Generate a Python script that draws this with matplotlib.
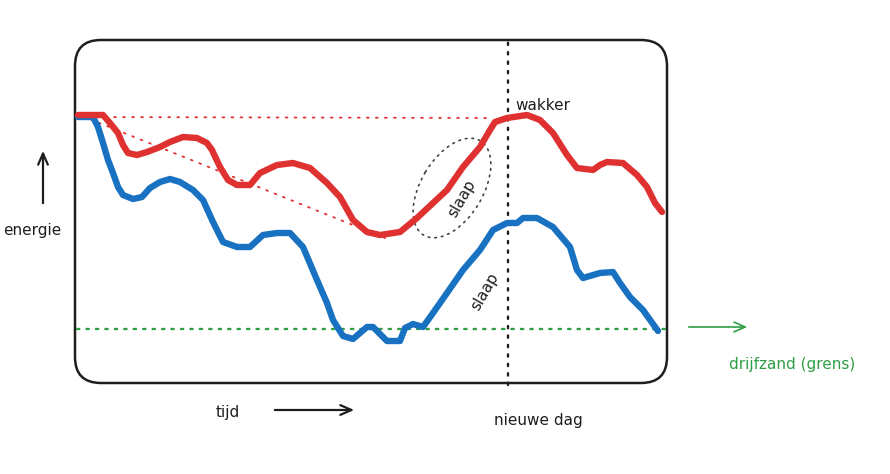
import numpy as np
import matplotlib.pyplot as plt
from matplotlib.patches import FancyBboxPatch, Ellipse

tijd_rood = [1, 26, 33, 41, 46, 51, 60, 70, 83, 93, 106, 120, 130, 135, 143,
             151, 160, 173, 183, 200, 216, 233, 250, 263, 276, 290, 303, 323,
             340, 356, 370, 386, 403, 413, 418, 430, 450, 463, 476, 490, 500,
             516, 523, 530, 546, 560, 570, 578, 585]
energie_rood = [267, 267, 259, 249, 237, 229, 227, 230, 235, 240, 245, 244, 239,
                232, 215, 202, 197, 197, 209, 217, 219, 214, 199, 185, 162, 150,
                147, 150, 164, 179, 192, 215, 235, 252, 260, 264, 267, 262, 249,
                227, 214, 212, 217, 220, 219, 207, 195, 179, 170]

tijd_blauw = [1, 16, 21, 26, 31, 36, 41, 46, 56, 65, 73, 83, 93, 103, 116, 126,
              136, 146, 160, 173, 186, 200, 213, 226, 240, 250, 256, 266, 276,
              290, 296, 310, 323, 328, 336, 346, 356, 370, 386, 403, 416, 430,
              440, 446, 460, 476, 493, 500, 506, 523, 536, 543, 553, 566, 581]
energie_blauw = [265, 265, 255, 239, 222, 209, 195, 187, 183, 185, 194, 200, 203,
                 200, 192, 182, 160, 140, 135, 135, 147, 149, 149, 135, 102, 79,
                 62, 46, 43, 55, 55, 41, 41, 54, 58, 55, 69, 89, 112, 132, 152,
                 159, 159, 164, 164, 155, 135, 112, 104, 109, 110, 99, 85, 72, 51]

# hulplijnen bij de rode lijn
tijd_vlak = [1, 413]
energie_vlak = [265, 264]
tijd_schuin = [5, 313]
energie_schuin = [266, 142]

grens = 53          # drijfzand
nieuwe_dag = 431

rood = '#e03131'
blauw = '#1971c2'
groen = '#2f9e44'
inkt = '#1e1e1e'

fig = plt.figure(figsize=(8.9, 4.74), dpi=100)

# achtergrond in pixels voor kader, pijlen en tekst
bg = fig.add_axes([0, 0, 1, 1])
bg.set_xlim(0, 890)
bg.set_ylim(474, 0)
bg.axis('off')

kader = FancyBboxPatch((75, 40), 592, 343,
                       boxstyle='round,pad=0,rounding_size=26',
                       fill=False, ec=inkt, lw=1.8)
bg.add_patch(kader)

ax = fig.add_axes([77/890, 1 - 382/474, 588/890, 340/474])
ax.set_xlim(0, 588)
ax.set_ylim(0, 340)
ax.patch.set_alpha(0)
ax.axis('off')

ax.plot(tijd_vlak, energie_vlak, color=rood, lw=1.3, ls=(0, (1, 4)),
        dash_capstyle='round')
ax.plot(tijd_schuin, energie_schuin, color=rood, lw=1.3, ls=(0, (1, 4)),
        dash_capstyle='round')

ax.axhline(grens, color=groen, lw=1.7, ls=(0, (1, 3)), dash_capstyle='round',
           xmax=590/588, clip_on=False)
ax.axvline(nieuwe_dag, color=inkt, lw=1.7, ls=(0, (1, 3)),
           dash_capstyle='round', ymin=-0.01, ymax=1, clip_on=False)

ax.plot(tijd_blauw, energie_blauw, color=blauw, lw=4.6,
        solid_capstyle='round', solid_joinstyle='round', clip_on=False)
ax.plot(tijd_rood, energie_rood, color=rood, lw=4.6,
        solid_capstyle='round', solid_joinstyle='round', clip_on=False)

ovaal = Ellipse((452, 188), 110, 62, angle=-59, fill=False, ec='#444444',
                lw=1.2, ls=(0, (1, 3)), capstyle='round')
bg.add_patch(ovaal)

pijl = dict(arrowstyle='->,head_length=0.8,head_width=0.35', color=inkt,
            lw=1.6)
bg.annotate('', xy=(43, 148), xytext=(43, 206), arrowprops=pijl)
bg.annotate('', xy=(357, 410), xytext=(272, 410), arrowprops=pijl)
pijl_groen = dict(pijl, color=groen, lw=1.2)
bg.annotate('', xy=(750, 327), xytext=(686, 327), arrowprops=pijl_groen)

bg.text(32, 230, 'energie', fontsize=11, color=inkt, ha='center', va='center')
bg.text(228, 413, 'tijd', fontsize=11, color=inkt, ha='center', va='center')
bg.text(538, 420, 'nieuwe dag', fontsize=11, color=inkt, ha='center',
        va='center')
bg.text(543, 105, 'wakker', fontsize=11, color=inkt, ha='center', va='center')
bg.text(462, 199, 'slaap', fontsize=11, color=inkt, ha='center', va='center',
        rotation=60)
bg.text(485, 292, 'slaap', fontsize=11, color=inkt, ha='center', va='center',
        rotation=60)
bg.text(792, 364, 'drijfzand (grens)', fontsize=11, color=groen, ha='center',
        va='center')

fig.savefig('out.png', dpi=100)
